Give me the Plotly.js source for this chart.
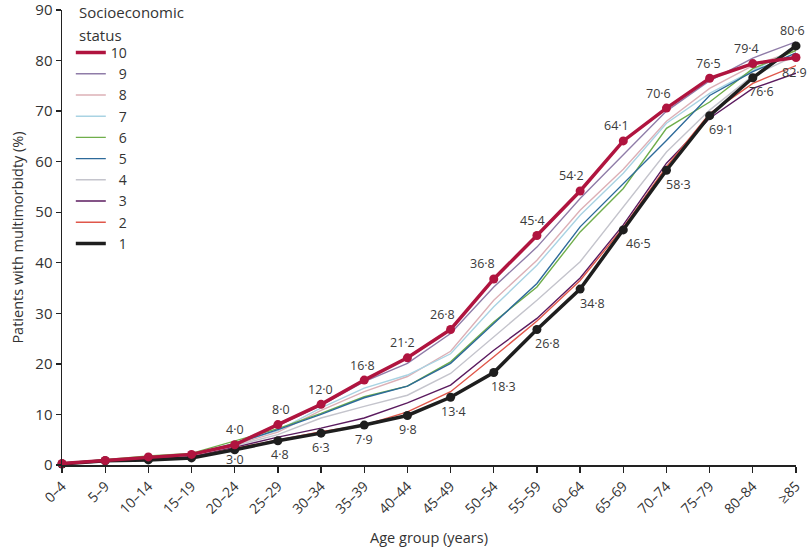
<!DOCTYPE html>
<html>
<head>
<meta charset="utf-8">
<script src="https://cdn.plot.ly/plotly-3.0.1.min.js"></script>
<style>html,body{margin:0;padding:0;background:#fff;}#chart{width:810px;height:551px;}</style>
</head>
<body>
<div id="chart"></div>
<script>
const ageGroups = ["0–4","5–9","10–14","15–19","20–24","25–29","30–34","35–39","40–44","45–49","50–54","55–59","60–64","65–69","70–74","75–79","80–84","≥85"];

const ses10 = [0.3,0.9,1.6,2.1,4.0,8.0,12.0,16.8,21.2,26.8,36.8,45.4,54.2,64.1,70.6,76.5,79.4,80.6];
const ses9  = [0.3,0.9,1.5,2.0,4.2,7.8,11.8,16.5,20.1,26.0,35.2,43.1,52.7,61.3,70.0,76.0,80.5,83.7];
const ses8  = [0.3,0.9,1.5,2.0,4.0,6.5,10.8,14.5,17.5,22.5,32.6,40.5,50.4,58.5,68.0,74.5,79.0,82.0];
const ses7  = [0.3,0.9,1.6,2.1,4.3,6.8,11.3,15.2,17.8,22.0,31.3,39.5,49.4,57.7,67.6,73.5,78.0,82.5];
const ses6  = [0.3,1.0,1.8,2.3,4.8,7.2,10.2,13.5,15.6,20.4,28.3,35.2,46.1,54.7,66.6,71.8,78.4,82.0];
const ses5  = [0.3,0.9,1.6,2.1,4.2,7.0,10.0,13.3,15.6,20.1,28.0,35.9,47.1,55.7,64.2,73.1,77.8,81.5];
const ses4  = [0.3,0.9,1.4,1.9,3.8,6.0,9.3,11.6,13.8,18.1,25.4,32.6,40.2,51.0,61.9,70.2,77.0,81.0];
const ses3  = [0.2,0.8,1.2,1.6,3.5,5.5,7.3,9.3,12.3,15.8,22.7,29.0,37.0,47.5,59.7,68.6,74.5,77.5];
const ses2  = [0.2,0.8,1.1,1.5,3.3,5.0,6.6,7.9,10.5,14.5,21.4,28.5,36.5,47.0,59.0,69.5,75.5,79.0];
const ses1  = [0.2,0.85,1.0,1.4,3.0,4.8,6.3,7.9,9.8,13.4,18.3,26.8,34.8,46.5,58.3,69.1,76.6,82.9];

const labels10 = ["","","","","4·0","8·0","12·0","16·8","21·2","26·8","36·8","45·4","54·2","64·1","70·6","76·5","79·4","82·9"];
const labels1  = ["","","","","3·0","4·8","6·3","7·9","9·8","13·4","18·3","26·8","34·8","46·5","58·3","69·1","76·6","80·6"];
const legendTitle = ["Socioeconomic", "status"];
const yTicks = [0,10,20,30,40,50,60,70,80,90];

const RED = "#b0143f";
const BLACK = "#1e1e1e";
const thin = [
  {name:"\u20079", y:ses9, color:"#8f7ca8", rank:2},
  {name:"\u20078", y:ses8, color:"#dcb0b6", rank:3},
  {name:"\u20077", y:ses7, color:"#a9d3e3", rank:4},
  {name:"\u20076", y:ses6, color:"#6fae4b", rank:5},
  {name:"\u20075", y:ses5, color:"#2d6a9a", rank:6},
  {name:"\u20074", y:ses4, color:"#c4c4cc", rank:7},
  {name:"\u20073", y:ses3, color:"#5b1b5f", rank:8},
  {name:"\u20072", y:ses2, color:"#e0574a", rank:9}
];

const traces = [];
thin.forEach(s => traces.push({
  type:"scatter", mode:"lines", x:ageGroups, y:s.y, name:s.name, legendrank:s.rank,
  line:{color:s.color, width:1.4}, cliponaxis:false, hoverinfo:"skip"
}));
function thick(y, name, color, rank) {
  traces.push({
    type:"scatter", mode:"lines", x:ageGroups, y:y, name:name, legendrank:rank,
    line:{color:color, width:3.5}, cliponaxis:false
  });
  traces.push({
    type:"scatter", mode:"markers", x:ageGroups, y:y, name:name, showlegend:false,
    marker:{color:color, size:9}, cliponaxis:false
  });
}
thick(ses1, "\u20071", BLACK, 10);
thick(ses10, "10", RED, 1);

const annFont = {family:"Open Sans, sans-serif", size:12.5, color:"#3a3a3a"};
const annotations = [];
const redDx = [0,0,0,0,0,3,-1,-2,-5,-8,-11,-4,-9,-7,-8,-1,-6,-2];
for (let i = 0; i < ageGroups.length; i++) {
  if (!labels10[i]) continue;
  if (i === 17) {
    annotations.push({x:ageGroups[i], y:ses10[i], text:labels10[i], showarrow:false, font:annFont, xshift:-2, yshift:-15});
  } else {
    annotations.push({x:ageGroups[i], y:ses10[i], text:labels10[i], showarrow:false, font:annFont, xshift:redDx[i], yshift:15});
  }
}
const blackDx = [0,0,0,0,0,2,0,0,1,3,10,11,12,15,12,12,9,-4];
for (let i = 0; i < ageGroups.length; i++) {
  if (!labels1[i]) continue;
  if (i === 17) {
    annotations.push({x:ageGroups[i], y:ses1[i], text:labels1[i], showarrow:false, font:annFont, xshift:-4, yshift:15});
  } else if (i === 4) {
    annotations.push({x:ageGroups[i], y:ses1[i], text:labels1[i], showarrow:false, font:annFont, xshift:0, yshift:-10});
  } else {
    annotations.push({x:ageGroups[i], y:ses1[i], text:labels1[i], showarrow:false, font:annFont, xshift:blackDx[i], yshift:-14});
  }
}
const titleFont = {family:"Open Sans, sans-serif", size:15, color:"#333"};
annotations.push({xref:"paper", yref:"paper", x:0.021, y:1 - (12-10)/455, xanchor:"left", yanchor:"middle", text:legendTitle[0], showarrow:false, font:titleFont});
annotations.push({xref:"paper", yref:"paper", x:0.021, y:1 - (35-10)/455, xanchor:"left", yanchor:"middle", text:legendTitle[1], showarrow:false, font:titleFont});

const layout = {
  width:810, height:551,
  margin:{l:62, r:14, t:10, b:86},
  paper_bgcolor:"#fff", plot_bgcolor:"#fff",
  font:{family:"Open Sans, sans-serif", color:"#333"},
  showlegend:true,
  legend:{
    x:0.012, y:1 - (37-10)/455, xanchor:"left", yanchor:"top",
    bgcolor:"rgba(0,0,0,0)", itemwidth:30,
    font:{size:14, color:"#333"},
    tracegroupgap:0
  },
  xaxis:{
    type:"category", range:[0,17], showgrid:false, zeroline:false,
    showline:true, linecolor:"#222", linewidth:1.5,
    ticks:"outside", ticklen:6, tickwidth:1.3, tickcolor:"#222",
    tickangle:-45, tickfont:{size:14, color:"#333"},
    title:{text:"Age group (years)", font:{size:14.5, color:"#333"}, standoff:16}
  },
  yaxis:{
    range:[0,90], tickmode:"array", tickvals:yTicks, ticktext:yTicks.map(String),
    ticklabeloverflow:"allow",
    showgrid:false, zeroline:false,
    showline:true, linecolor:"#222", linewidth:1.5,
    ticks:"outside", ticklen:5, tickwidth:1.3, tickcolor:"#222",
    tickfont:{size:15, color:"#333"},
    title:{text:"Patients with multimorbidty (%)", font:{size:14.5, color:"#333"}, standoff:8}
  },
  annotations:annotations
};

Plotly.newPlot("chart", traces, layout, {displayModeBar:false, staticPlot:true});
</script>
</body>
</html>
